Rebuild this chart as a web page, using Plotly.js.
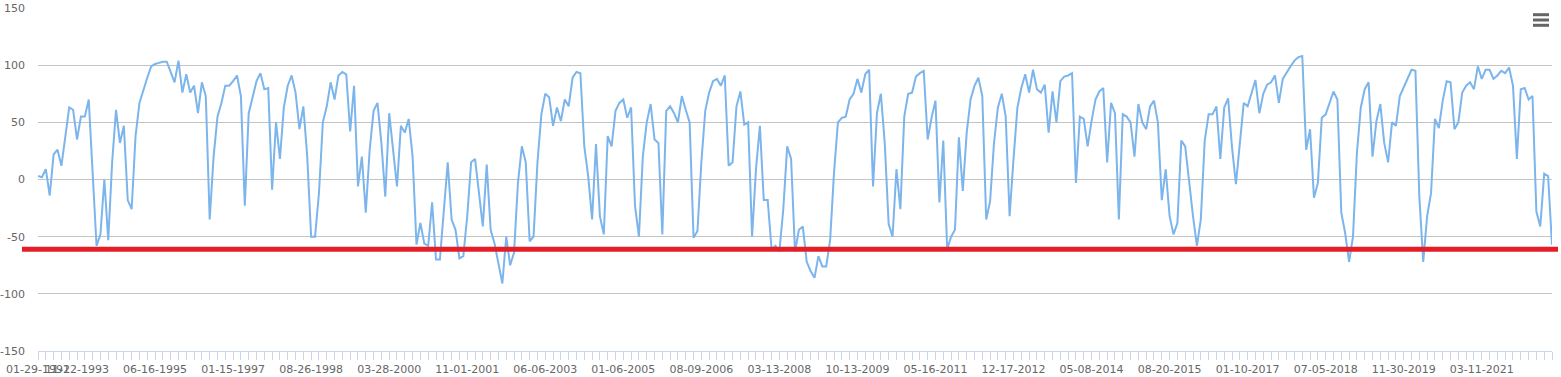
<!DOCTYPE html>
<html>
<head>
<meta charset="utf-8">
<script src="https://cdn.plot.ly/plotly-3.0.1.min.js"></script>
<style>
  html, body { margin: 0; padding: 0; background: #ffffff; }
  #chart { width: 1561px; height: 377px; }
</style>
</head>
<body>
<div id="chart"></div>
<script>
// Series values (one per category position)
const values = [
  3, 2, 9, -14, 22, 26, 12, 40, 63, 61,
  35, 55, 55, 70, 6, -58, -48, 0, -53, 15,
  61, 32, 47, -18, -26, 38, 67, 79, 89, 99,
  101, 102, 103, 103, 94, 85, 104, 76, 92, 76,
  82, 58, 85, 73, -35, 20, 55, 67, 82, 82,
  86, 91, 73, -23, 58, 72, 86, 93, 79, 80,
  -9, 50, 18, 63, 82, 91, 76, 44, 64, 20,
  -50, -50, -12, 50, 64, 85, 70, 91, 94, 92,
  42, 82, -6, 20, -29, 26, 60, 67, 32, -15,
  58, 26, -6, 47, 41, 53, 20, -57, -38, -56,
  -58, -20, -70, -70, -26, 15, -35, -44, -69, -67,
  -32, 15, 18, -12, -41, 13, -44, -56, -75, -91,
  -50, -75, -64, -3, 29, 15, -54, -50, 15, 57,
  75, 72, 47, 63, 51, 70, 64, 89, 94, 93,
  29, 3, -35, 31, -32, -48, 38, 29, 60, 67,
  70, 54, 63, -23, -50, 20, 50, 66, 35, 32,
  -48, 60, 64, 58, 50, 73, 61, 50, -51, -45,
  15, 60, 76, 86, 88, 82, 91, 12, 15, 64,
  77, 48, 50, -50, 9, 47, -18, -18, -61, -58,
  -63, -26, 29, 18, -63, -44, -41, -72, -80, -86,
  -67, -76, -76, -53, 6, 50, 54, 55, 70, 75,
  88, 76, 92, 96, -6, 58, 75, 32, -39, -50,
  9, -26, 55, 75, 76, 90, 93, 95, 35, 54,
  69, -20, 34, -61, -50, -44, 37, -10, 41, 70,
  82, 89, 73, -35, -19, 32, 63, 75, 55, -32,
  18, 63, 80, 92, 76, 96, 79, 76, 83, 41,
  77, 50, 86, 90, 91, 93, -3, 55, 53, 29,
  51, 70, 77, 80, 15, 67, 58, -35, 57, 55,
  50, 20, 66, 50, 44, 64, 69, 50, -18, 9,
  -32, -48, -38, 34, 29, -3, -32, -58, -35, 34,
  57, 57, 64, 18, 63, 71, 28, -4, 29, 67,
  64, 75, 87, 58, 75, 83, 85, 91, 67, 88,
  94, 99, 104, 107, 108, 26, 44, -16, -3, 54,
  57, 67, 77, 70, -29, -47, -72, -50, 23, 63,
  79, 85, 20, 51, 66, 32, 15, 50, 47, 73,
  81, 89, 96, 95, -15, -72, -32, -12, 53, 45,
  69, 86, 85, 44, 50, 76, 82, 85, 79, 99,
  88, 96, 96, 88, 91, 95, 93, 98, 82, 18,
  79, 80, 70, 73, -28, -41, 5, 3, -57
];

// Category-axis date labels and the category each one belongs to
const tickLabels = [
  "01-29-1992", "11-12-1993", "06-16-1995", "01-15-1997", "08-26-1998",
  "03-28-2000", "11-01-2001", "06-06-2003", "01-06-2005", "08-09-2006",
  "03-13-2008", "10-13-2009", "05-16-2011", "12-17-2012", "05-08-2014",
  "08-20-2015", "01-10-2017", "07-05-2018", "11-30-2019", "03-11-2021"
];
const tickCategory = [0, 10, 30, 50, 70, 90, 110, 130, 150, 170, 190, 210, 230, 250, 270, 290, 310, 330, 350, 370];

// Y-axis tick values and their labels (plain hyphen minus, as in the reference)
const yTickValues = [-150, -100, -50, 0, 50, 100, 150];
const yTickLabels = yTickValues.map(v => String(v));

// Threshold drawn as the red horizontal line
const thresholdValue = -61;

const categories = values.map((v, i) => i);

const W = 1561, H = 377;
const M = { l: 38, r: 9, t: 8, b: 26 };
const PW = W - M.l - M.r, PH = H - M.t - M.b;
const px = x => (x - M.l) / PW;
const py = y => (H - M.b - y) / PH;

const trace = {
  type: 'scatter',
  mode: 'lines',
  x: categories,
  y: values,
  line: { color: '#7cb5ec', width: 2 },
  hoverinfo: 'y'
};

const menuLine = y => ({
  type: 'line', xref: 'paper', yref: 'paper',
  x0: px(1533), x1: px(1549), y0: py(y), y1: py(y),
  line: { color: '#666666', width: 3 }
});

const layout = {
  width: W, height: H,
  margin: M,
  paper_bgcolor: '#ffffff',
  plot_bgcolor: '#ffffff',
  showlegend: false,
  font: { family: 'DejaVu Sans, Verdana, sans-serif', size: 11, color: '#666666' },
  xaxis: {
    type: 'linear',
    range: [0, values.length - 1],
    tickmode: 'array',
    tickvals: tickCategory,
    ticktext: tickLabels,
    tickangle: 0,
    ticks: 'outside',
    ticklen: 8,
    tickcolor: '#ccd6eb',
    tickwidth: 1,
    showgrid: false,
    zeroline: false,
    showline: true,
    linecolor: '#ccd6eb',
    linewidth: 1,
    tickfont: { family: 'DejaVu Sans, Verdana, sans-serif', size: 11, color: '#666666' },
    minor: {
      tickmode: 'linear', tick0: 0, dtick: 2,
      ticks: 'outside', ticklen: 8, tickcolor: '#ccd6eb', tickwidth: 1,
      showgrid: false
    },
    fixedrange: true
  },
  yaxis: {
    range: [-150, 150],
    tickmode: 'array',
    tickvals: yTickValues,
    ticktext: yTickLabels,
    showgrid: true,
    gridcolor: '#c4c4c4',
    gridwidth: 1,
    zeroline: false,
    showline: false,
    ticks: '',
    ticklabelstandoff: 12,
    tickfont: { family: 'DejaVu Sans, Verdana, sans-serif', size: 11, color: '#666666' },
    fixedrange: true
  },
  shapes: [
    {
      type: 'line', xref: 'paper', yref: 'y', layer: 'above',
      x0: px(22), x1: px(1558), y0: thresholdValue, y1: thresholdValue,
      line: { color: '#e41e26', width: 5 }
    },
    menuLine(14.7), menuLine(20), menuLine(25.3)
  ]
};

Plotly.newPlot('chart', [trace], layout, { displayModeBar: false, responsive: false });
</script>
</body>
</html>
